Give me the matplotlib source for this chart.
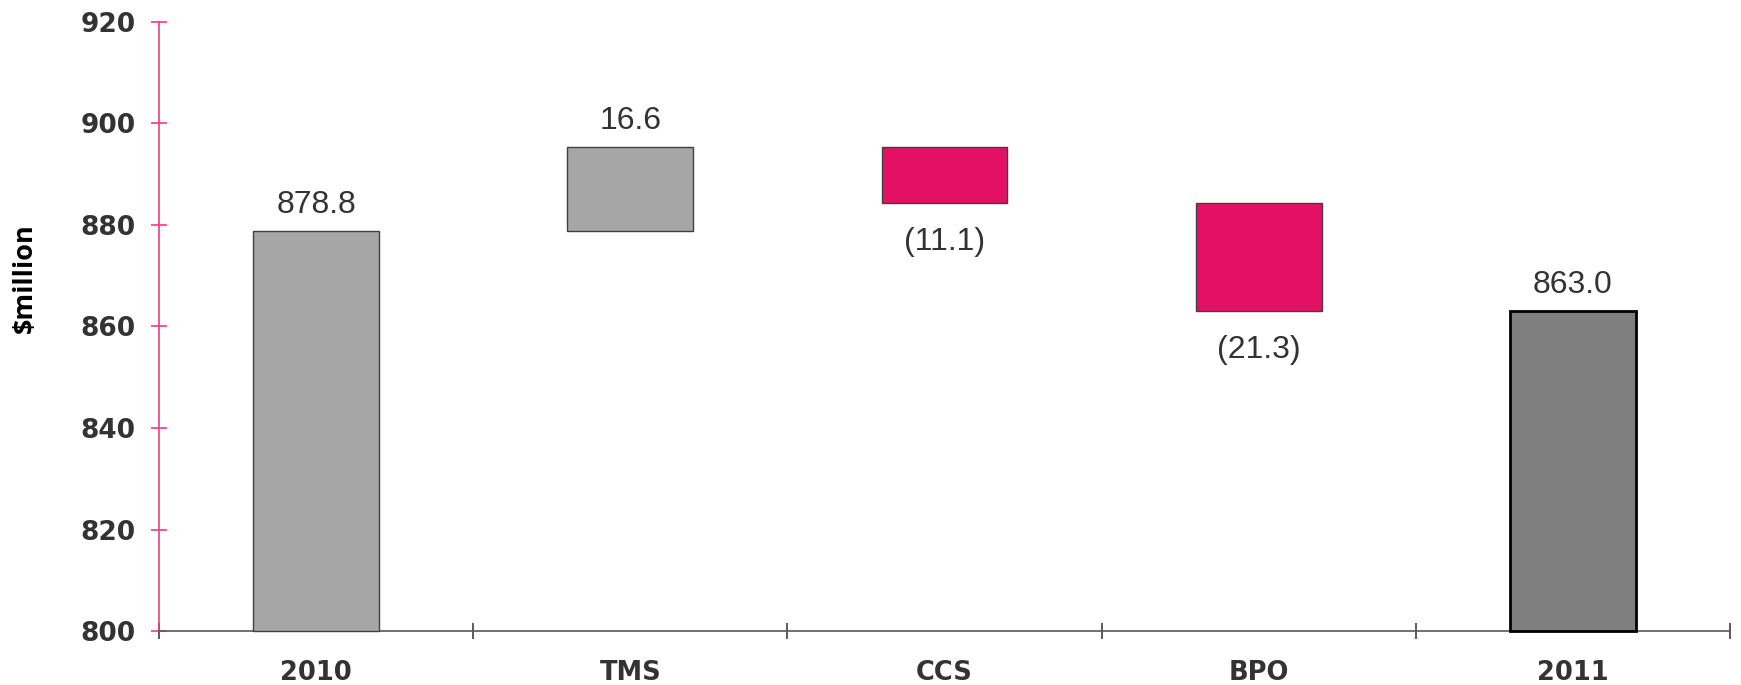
#!/usr/bin/env python3
# Revenue bridge from 2010 to 2011 by business line, in $ million.

import matplotlib.pyplot as plt
import numpy as np

CATEGORIES = ['2010', 'TMS', 'CCS', 'BPO', '2011']
# first and last entries are totals, the rest are changes
VALUES = [878.8, 16.6, -11.1, -21.3, 863.0]
VALUE_LABELS = ['878.8', '16.6', '(11.1)', '(21.3)', '863.0']
Y_TICKS = [800, 820, 840, 860, 880, 900, 920]

GREY = '#a6a6a6'
DARK_GREY = '#7f7f7f'
PINK = '#e31063'
AXIS_PINK = '#ee3c84'
TEXT = '#333333'


def get_bar_extents(values, floor):
    """
    Works out bottoms and heights of the waterfall bars. Totals start at
    the floor of the axis, changes float from the running total.
    """
    bottoms, heights = [], []
    running = values[0]
    for i, v in enumerate(values):
        if i == 0 or i == len(values) - 1:
            bottoms.append(floor)
            heights.append(v - floor)
            running = v
        else:
            bottoms.append(min(running, running + v))
            heights.append(abs(v))
            running += v
    return bottoms, heights


def main():
    plt.rcParams['font.family'] = ['DejaVu Sans']
    fig = plt.figure(figsize=(17.41, 6.85), dpi=100)
    ax = fig.add_axes([0.0913, 0.0788, 0.9024, 0.8892])

    floor = Y_TICKS[0]
    bottoms, heights = get_bar_extents(VALUES, floor)
    x = np.arange(len(CATEGORIES))
    colors = [GREY, GREY, PINK, PINK, DARK_GREY]
    edges = ['#404040'] * 4 + ['black']
    widths = [1.0] * 4 + [2.0]

    for i in range(len(x)):
        ax.bar(x[i], heights[i], bottom=bottoms[i], width=0.4,
               color=colors[i], edgecolor=edges[i], linewidth=widths[i],
               zorder=3, clip_on=False)

    # value labels: rises above the bar, falls below it
    for i in range(len(x)):
        top = bottoms[i] + heights[i]
        if VALUES[i] >= 0:
            ax.annotate(VALUE_LABELS[i], (x[i], top), xytext=(0, 8),
                        textcoords='offset points', ha='center', va='bottom',
                        fontsize=23, color=TEXT, family='Liberation Sans')
        else:
            ax.annotate(VALUE_LABELS[i], (x[i], bottoms[i]),
                        xytext=(0, -17), textcoords='offset points',
                        ha='center', va='top', fontsize=23, color=TEXT,
                        family='Liberation Sans')

    ax.set_xlim(-0.5, len(x) - 0.5)
    ax.set_ylim(Y_TICKS[0], Y_TICKS[-1])
    ax.set_yticks(Y_TICKS)
    ax.set_xticks(np.arange(len(x) + 1) - 0.5, minor=True)
    ax.set_xticks(x)
    ax.set_xticklabels(CATEGORIES)

    for side in ['top', 'right']:
        ax.spines[side].set_visible(False)
    ax.spines['left'].set_color(AXIS_PINK)
    ax.spines['left'].set_linewidth(1.2)
    ax.spines['bottom'].set_color('#595959')
    ax.spines['bottom'].set_linewidth(1.2)

    ax.tick_params(axis='y', direction='inout', length=12, width=1.2,
                   color=AXIS_PINK, labelsize=19, labelcolor=TEXT, pad=11)
    ax.tick_params(axis='x', which='major', length=0, pad=21,
                   labelsize=18.5, labelcolor=TEXT)
    ax.tick_params(axis='x', which='minor', direction='inout', length=12,
                   width=1.2, color='#404040')
    for lbl in ax.get_xticklabels() + ax.get_yticklabels():
        lbl.set_fontweight('bold')

    ax.set_ylabel(r'\$million', fontsize=19.5, fontweight='bold',
                  family='Open Sans', color='black')
    ax.yaxis.set_label_coords(-0.077, 0.58)

    fig.savefig('out.png', dpi=100)


if __name__ == '__main__':
    main()
